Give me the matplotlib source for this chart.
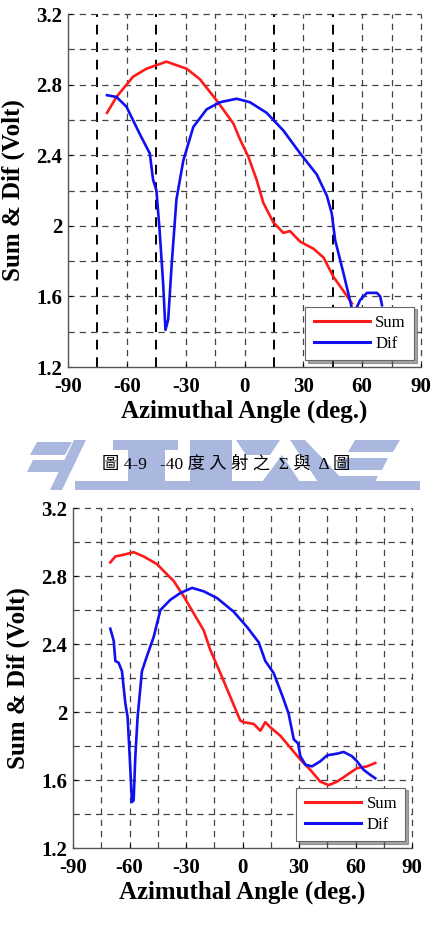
"""Sum & Dif pattern vs azimuthal angle, two incidence cases (scanned thesis page)."""

import matplotlib

matplotlib.use("Agg")
import matplotlib.pyplot as plt
from matplotlib.patches import Polygon, Rectangle

plt.rcParams["font.family"] = ["Liberation Serif", "Noto Sans CJK TC"]
plt.rcParams["axes.unicode_minus"] = False

RED = "#ff1a1a"
BLUE = "#1010f0"
WM = "#aab8e0"

# --- top chart (-40 deg incidence) ---------------------------------------
top_sum_x = [-70.1, -65.3, -56.8, -50.0, -39.8, -29.5, -22.7, -14.2, -5.7, -2.3,
             2.0, 6.2, 9.6, 14.7, 19.8, 23.2, 28.4, 35.2, 40.3, 45.4, 50.5, 54.8]
top_sum_y = [2.64, 2.73, 2.845, 2.89, 2.93, 2.89, 2.83, 2.71, 2.58, 2.49,
             2.39, 2.26, 2.13, 2.02, 1.96, 1.97, 1.91, 1.87, 1.82, 1.71, 1.63, 1.56]
top_dif_x = [-70.1, -65.3, -60.2, -53.4, -48.3, -46.6, -44.9, -43.2, -41.5, -40.3,
             -38.9, -37.2, -34.7, -31.2, -26.1, -19.3, -12.5, -4.0, 2.8, 11.3,
             19.8, 28.4, 36.9, 42.0, 44.5, 46.2, 50.5, 54.8, 56.5, 59.0, 62.4,
             67.5, 69.2, 70.1]
top_dif_y = [2.74, 2.73, 2.675, 2.52, 2.41, 2.26, 2.20, 1.96, 1.675, 1.41,
             1.47, 1.77, 2.15, 2.37, 2.56, 2.66, 2.70, 2.72, 2.70, 2.64,
             2.54, 2.41, 2.29, 2.17, 2.07, 1.92, 1.73, 1.53, 1.52, 1.58, 1.62,
             1.62, 1.60, 1.55]

# --- bottom chart --------------------------------------------------------
bot_sum_x = [-70.2, -67.5, -63.1, -57.8, -52.5, -45.4, -41.9, -36.5, -31.2, -25.9,
             -20.6, -17.1, -11.8, -6.5, -1.2, 0.6, 5.9, 9.5, 12.1, 14.8, 20.1,
             25.4, 30.7, 36.0, 41.3, 45.8, 50.2, 55.5, 60.8, 66.1, 70.5]
bot_sum_y = [2.88, 2.915, 2.925, 2.94, 2.915, 2.87, 2.83, 2.77, 2.68, 2.58,
             2.48, 2.365, 2.23, 2.09, 1.95, 1.94, 1.93, 1.89, 1.94, 1.91, 1.86,
             1.79, 1.72, 1.66, 1.59, 1.57, 1.59, 1.63, 1.67, 1.68, 1.70]
bot_dif_x = [-70.2, -68.4, -67.5, -65.8, -64.0, -62.2, -61.0, -59.9, -58.7, -57.8,
             -56.9, -55.7, -53.4, -50.7, -47.2, -43.6, -38.3, -33.0, -26.8, -20.6,
             -13.5, -4.7, 2.4, 8.6, 12.1, 16.5, 21.0, 24.5, 27.2, 29.5, 30.7,
             33.4, 36.9, 41.3, 44.9, 50.2, 53.7, 58.1, 60.8, 64.3, 67.9, 70.5]
bot_dif_y = [2.49, 2.42, 2.30, 2.29, 2.24, 2.05, 1.97, 1.74, 1.47, 1.48,
             1.74, 1.97, 2.24, 2.33, 2.44, 2.60, 2.66, 2.70, 2.73, 2.71,
             2.67, 2.59, 2.50, 2.41, 2.30, 2.23, 2.10, 1.99, 1.84, 1.815, 1.74,
             1.69, 1.68, 1.71, 1.745, 1.755, 1.765, 1.74, 1.71, 1.66, 1.63, 1.61]

x_ticks = [-90, -60, -30, 0, 30, 60, 90]
y_ticks = [1.2, 1.6, 2.0, 2.4, 2.8, 3.2]
y_ticklabels = ["1.2", "1.6", "2", "2.4", "2.8", "3.2"]
caption = "圖 4-9   -40 度 入 射 之  Σ 與  Δ 圖"


def draw_panel(ax, sx, sy, dx, dy, heavy):
    ax.set_xlim(-90, 90)
    ax.set_ylim(1.2, 3.2)
    for v in range(-75, 91, 15):
        lw = 1.4 if v in heavy else 0.9
        col = "black" if v in heavy else "#444444"
        ax.axvline(v, ls=(0, (5, 4)), lw=lw, c=col, zorder=1, clip_on=False)
    for h in [1.4, 1.6, 1.8, 2.0, 2.2, 2.4, 2.6, 2.8, 3.0, 3.2]:
        ax.axhline(h, ls=(0, (5, 4)), lw=0.9, c="#444444", zorder=1, clip_on=False)
    ax.plot(sx, sy, c=RED, lw=1.9, label="Sum", zorder=3)
    ax.plot(dx, dy, c=BLUE, lw=1.9, label="Dif", zorder=3)
    for s in ("top", "right"):
        ax.spines[s].set_visible(False)
    for s in ("left", "bottom"):
        ax.spines[s].set_color("#555555")
        ax.spines[s].set_linewidth(1.0)
    ax.set_xticks(x_ticks)
    ax.set_yticks(y_ticks)
    ax.set_yticklabels(y_ticklabels)
    ax.tick_params(direction="in", length=3, width=0.8, labelsize=15)
    ax.tick_params(axis="x", pad=7)
    ax.tick_params(axis="y", pad=4)
    for t in ax.get_xticklabels() + ax.get_yticklabels():
        t.set_fontweight("bold")
    ax.set_xlabel("Azimuthal Angle (deg.)", fontsize=18, fontweight="bold", labelpad=2)
    ax.set_ylabel("Sum & Dif (Volt)", fontsize=18, fontweight="bold", labelpad=8)
    leg = ax.legend(loc="lower right", fontsize=12, handlelength=3.4, fancybox=False,
                    shadow=True, framealpha=1, edgecolor="#666666",
                    borderaxespad=0.4, handletextpad=0.3, labelspacing=0.3,
                    borderpad=0.5)
    leg.get_frame().set_linewidth(0.8)
    for line in leg.get_lines():
        line.set_linewidth(2.2)


fig = plt.figure(figsize=(4.34, 9.34), dpi=100)

# watermark band behind caption (pixel coordinates)
bg = fig.add_axes([0, 0, 1, 1], zorder=-5)
bg.set_xlim(0, 434)
bg.set_ylim(934, 0)
bg.axis("off")
shapes = [
    [(37, 442), (72, 442), (65, 455), (30, 455)],
    [(33, 460), (68, 460), (62, 472), (27, 472)],
    [(74, 440), (86, 440), (62, 490), (50, 490)],
    [(113, 440), (178, 440), (178, 450), (113, 450)],
    [(128, 450), (165, 450), (165, 482), (128, 482)],
    [(190, 440), (232, 440), (232, 482), (190, 482)],
    [(236, 440), (280, 440), (270, 455), (246, 455)],
    [(290, 440), (305, 440), (345, 482), (318, 482)],
    [(262, 482), (282, 455), (300, 482)],
    [(355, 440), (400, 440), (393, 452), (348, 452)],
    [(344, 458), (388, 458), (382, 470), (338, 470)],
    [(334, 476), (378, 476), (373, 486), (329, 486)],
]
for pts in shapes:
    bg.add_patch(Polygon(pts, closed=True, fc=WM, ec="none"))
bg.add_patch(Rectangle((75, 481), 345, 9, fc=WM, ec="none"))

ax1 = fig.add_axes([68 / 434, 1 - 367 / 934, 353 / 434, 353 / 934])
draw_panel(ax1, top_sum_x, top_sum_y, top_dif_x, top_dif_y, heavy=(-75, -45, 15, 45))

ax2 = fig.add_axes([73 / 434, 1 - 848 / 934, 339 / 434, 340 / 934])
draw_panel(ax2, bot_sum_x, bot_sum_y, bot_dif_x, bot_dif_y, heavy=())

fig.text(226 / 434, 1 - 465 / 934, caption, ha="center", va="center", fontsize=12.5)

fig.savefig("out.png", dpi=100)
